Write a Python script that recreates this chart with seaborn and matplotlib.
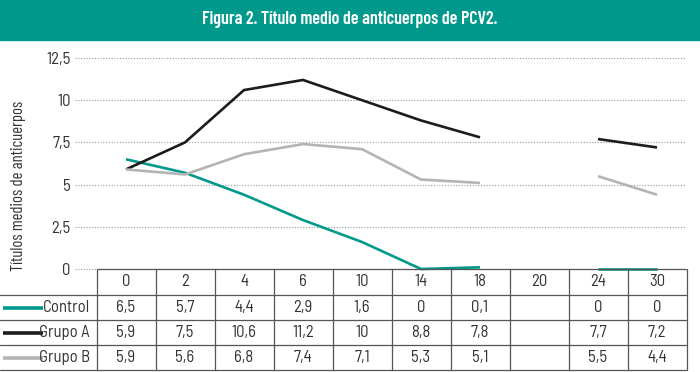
import numpy as np
import pandas as pd
import matplotlib
matplotlib.use("Agg")
import matplotlib.pyplot as plt
import seaborn as sns
from matplotlib.lines import Line2D
from matplotlib.patches import Rectangle

semanas = ["0", "2", "4", "6", "10", "14", "18", "20", "24", "30"]
control = [6.5, 5.7, 4.4, 2.9, 1.6, 0, 0.1, None, 0, 0]
grupo_a = [5.9, 7.5, 10.6, 11.2, 10, 8.8, 7.8, None, 7.7, 7.2]
grupo_b = [5.9, 5.6, 6.8, 7.4, 7.1, 5.3, 5.1, None, 5.5, 4.4]
series_names = ["Control", "Grupo A", "Grupo B"]
series_vals = [control, grupo_a, grupo_b]
colors = {"Control": "#00998c", "Grupo A": "#1c1c1c", "Grupo B": "#b4b4b4"}
yticks = [0, 2.5, 5, 7.5, 10, 12.5]
ytick_labels = ["0", "2,5", "5", "7,5", "10", "12,5"]
title = "Figura 2. Título medio de anticuerpos de PCV2."
ylabel = "Títulos medios de anticuerpos"

sns.set_theme(style="white")
FONT = ["Barlow Semi Condensed", "DejaVu Sans"]
TFONT = ["Barlow Condensed", "DejaVu Sans"]
plt.rcParams["font.family"] = FONT

W, H = 700, 372
fig = plt.figure(figsize=(W / 100, H / 100), dpi=100)

def fx(x):
    return x / W

def fy(y):
    return 1 - y / H

# header band
fig.add_artist(Rectangle((0, fy(40)), 1, 40 / H, transform=fig.transFigure,
                         color="#00998c", zorder=0))
fig.text(0.5, fy(19), title, color="white", fontsize=13, fontweight="semibold",
         ha="center", va="center", family=TFONT)

# rows to long form with segment ids (gap at week 20)
rows = []
for name, vals in zip(series_names, series_vals):
    seg = 0
    for i, v in enumerate(vals):
        if v is None:
            seg += 1
            continue
        rows.append({"pos": i, "val": v, "serie": name, "seg": f"{name}-{seg}"})
df = pd.DataFrame(rows)

col0 = 126
colw = 59
ax_left, ax_right, ax_top, ax_bot = 75, 686, 58, 269
ax = fig.add_axes([fx(ax_left), fy(ax_bot), (ax_right - ax_left) / W, (ax_bot - ax_top) / H])
sns.lineplot(data=df, x="pos", y="val", hue="serie", units="seg", estimator=None,
             palette=colors, linewidth=1.9, ax=ax, legend=False, zorder=3)
ax.set_xlim((ax_left - col0) / colw, (ax_right - col0) / colw)
ax.set_ylim(0, 12.5)
ax.set_yticks(yticks)
ax.set_yticklabels(ytick_labels, fontsize=12, color="#333333")
ax.set_xticks([])
ax.set_xlabel("")
ax.set_ylabel("")
ax.tick_params(axis="y", length=0, pad=3)
for s in ax.spines.values():
    s.set_visible(False)
for t in yticks:
    ax.axhline(t, color="#999999", linewidth=0.8, linestyle=(0, (1, 1.5)), zorder=1)
for line in ax.lines:
    line.set_clip_on(False)
    line.set_solid_capstyle("butt")

fig.text(fx(19), fy(186), ylabel, rotation=90, ha="center", va="center",
         fontsize=12, color="#333333", family=TFONT)

# table
tab_left, tab_right = 97, 686
row_y = [269, 295, 320, 345, 370]
lc = "#555555"
lw = 0.9
def hline(y, x0, x1):
    fig.add_artist(Line2D([fx(x0), fx(x1)], [fy(y), fy(y)], transform=fig.transFigure,
                          color=lc, linewidth=lw))
def vline(x, y0, y1):
    fig.add_artist(Line2D([fx(x), fx(x)], [fy(y0), fy(y1)], transform=fig.transFigure,
                          color=lc, linewidth=lw))

hline(row_y[0], tab_left, tab_right)
for y in row_y[1:]:
    hline(y, 0, tab_right)
for i in range(len(semanas) + 1):
    vline(tab_left + i * colw, row_y[0], row_y[-1])

tc = "#333333"
for i, s in enumerate(semanas):
    fig.text(fx(col0 + i * colw), fy((row_y[0] + row_y[1]) / 2), s, ha="center",
             va="center", fontsize=12, color=tc, family=FONT)
for r, (name, vals) in enumerate(zip(series_names, series_vals)):
    yc = (row_y[r + 1] + row_y[r + 2]) / 2
    fig.add_artist(Line2D([fx(3), fx(43)], [fy(yc), fy(yc)], transform=fig.transFigure,
                          color=colors[name], linewidth=2.6, solid_capstyle="butt"))
    fig.text(fx(90), fy(yc), name, ha="right", va="center", fontsize=12, color=tc,
             family=FONT)
    for i, v in enumerate(vals):
        if v is None:
            continue
        txt = f"{v:g}".replace(".", ",")
        fig.text(fx(col0 + i * colw), fy(yc), txt, ha="center", va="center",
                 fontsize=12, color=tc, family=FONT)

fig.savefig("out.png", dpi=100, facecolor="white")
